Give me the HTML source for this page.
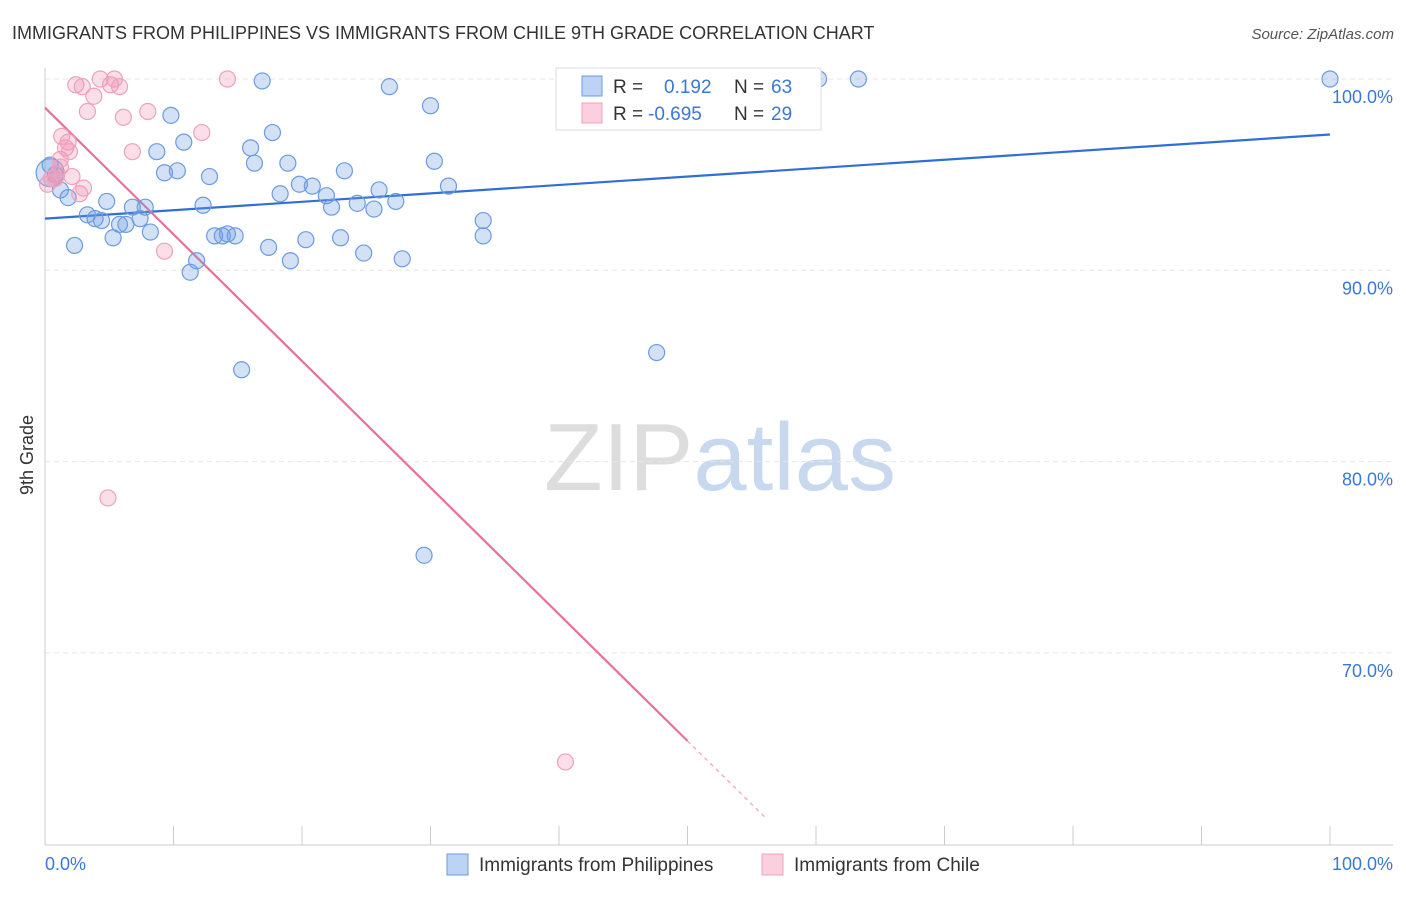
<!DOCTYPE html>
<html><head><meta charset="utf-8"><style>
body{margin:0;background:#fff;font-family:"Liberation Sans",sans-serif;}
svg text{font-family:"Liberation Sans",sans-serif;}
</style></head><body>
<svg id="chart" width="1406" height="892" viewBox="0 0 1406 892" xmlns="http://www.w3.org/2000/svg">
<text x="12" y="39" font-size="18" fill="#333">IMMIGRANTS FROM PHILIPPINES VS IMMIGRANTS FROM CHILE 9TH GRADE CORRELATION CHART</text>
<text x="1394" y="39" font-size="15" fill="#555" text-anchor="end" font-style="italic">Source: ZipAtlas.com</text>
<text x="720" y="490" font-size="96" text-anchor="middle" fill="#ddd" font-family="Liberation Serif">ZIP<tspan fill="#c8d8ee" font-family="Liberation Sans">atlas</tspan></text>
<text transform="translate(33,455) rotate(-90)" font-size="18" fill="#333" text-anchor="middle">9th Grade</text>
<g id="grid"></g><g id="axes"></g><g id="lines"></g><g id="pts"></g>
<g>
<rect x="556" y="68" width="265" height="62" fill="#fff" stroke="#ddd"/>
<rect x="582" y="76" width="20" height="20" fill="#bcd3f5" stroke="#6b9be0"/>
<text x="613" y="93" font-size="19" fill="#333">R = </text><text x="664" y="93" font-size="19" fill="#3a78d8">0.192</text>
<text x="734" y="93" font-size="19" fill="#333">N = </text><text x="771" y="93" font-size="19" fill="#3a78d8">63</text>
<rect x="582" y="103" width="20" height="20" fill="#fbd0de" stroke="#f0a0bb"/>
<text x="613" y="120" font-size="19" fill="#333">R = </text><text x="648" y="120" font-size="19" fill="#3a78d8">-0.695</text>
<text x="734" y="120" font-size="19" fill="#333">N = </text><text x="771" y="120" font-size="19" fill="#3a78d8">29</text>
</g>
<g>
<rect x="447" y="854" width="21" height="21" fill="#bcd3f5" stroke="#6b9be0"/>
<text x="479" y="871" font-size="19" fill="#333">Immigrants from Philippines</text>
<rect x="762" y="854" width="21" height="21" fill="#fbd0de" stroke="#f0a0bb"/>
<text x="794" y="871" font-size="19" fill="#333">Immigrants from Chile</text>
</g>
</svg>
<script>
const blueX=[0.4,0.8,1.2,1.8,2.3,3.3,3.9,4.4,4.8,5.3,5.8,6.3,6.8,7.4,7.8,8.2,8.7,9.3,9.8,10.3,10.8,11.3,11.8,12.3,12.8,13.2,13.8,14.2,14.8,15.3,16.0,16.3,16.9,17.4,17.7,18.3,18.9,19.1,19.8,20.3,20.8,21.9,22.3,23.0,23.3,24.3,24.8,25.6,26.0,26.8,27.3,27.8,29.5,30.0,30.3,31.4,34.1,34.1,47.6,60.2,63.3,100,0.4];
const blueY=[95.5,95.0,94.2,93.8,91.3,92.9,92.7,92.6,93.6,91.7,92.4,92.4,93.3,92.7,93.3,92.0,96.2,95.1,98.1,95.2,96.7,89.9,90.5,93.4,94.9,91.8,91.8,91.9,91.8,84.8,96.4,95.6,99.9,91.2,97.2,94.0,95.6,90.5,94.5,91.6,94.4,93.9,93.3,91.7,95.2,93.5,90.9,93.2,94.2,99.6,93.6,90.6,75.1,98.6,95.7,94.4,92.6,91.8,85.7,100,100,100,95.1];
const pinkX=[0.2,0.5,0.9,1.2,1.3,1.6,1.8,1.9,2.1,2.4,2.7,3.0,2.9,3.3,3.8,4.3,4.9,5.1,5.4,5.8,6.1,6.8,8.0,9.3,12.2,14.2,40.5,0.8,1.2];
const pinkY=[94.5,94.8,95.0,95.8,97.0,96.4,96.7,96.2,94.9,99.7,94.0,94.3,99.6,98.3,99.1,100,78.1,99.7,100,99.6,98.0,96.2,98.3,91.0,97.2,100,64.3,94.8,95.4];
const blueTrend=[92.7,97.1];
const pinkTrend=[98.5,-0.662];
const yTicks=[100,90,80,70];
const yTickLabels=["100.0%","90.0%","80.0%","70.0%"];
const NS="http://www.w3.org/2000/svg";
const X=v=>45+v*12.85, Y=v=>79+(100-v)*19.13;
function mk(t,a,p){const e=document.createElementNS(NS,t);for(const k in a)e.setAttribute(k,a[k]);p.appendChild(e);return e;}
const grid=document.getElementById('grid'),axes=document.getElementById('axes'),lines=document.getElementById('lines'),pts=document.getElementById('pts');
yTicks.forEach((t,i)=>{
 const l=mk('line',{x1:45,x2:1393,y1:Y(t),y2:Y(t),stroke:'#e6e6e6','stroke-dasharray':'5,4'},grid);
 
 
 const tx=mk('text',{x:1393,y:Y(t)+24,'font-size':18,fill:'#3a78d8','text-anchor':'end'},axes);tx.textContent=yTickLabels[i];
 
 
});
const ya=mk('line',{x1:45,x2:45,y1:68,y2:845,stroke:'#ccc'},axes);


const xa=mk('line',{x1:45,x2:1393,y1:845,y2:845,stroke:'#ccc'},axes);


for(let i=0;i<=10;i++){const t=mk('line',{x1:X(i*10),x2:X(i*10),y1:826,y2:845,stroke:'#ccc'},axes);
 
 }
const x0=mk('text',{x:45,y:870,'font-size':18,fill:'#3a78d8'},axes);x0.textContent='0.0%';


const x1=mk('text',{x:1393,y:870,'font-size':18,fill:'#3a78d8','text-anchor':'end'},axes);x1.textContent='100.0%';


blueX.forEach((x,i)=>{const c=mk('circle',{cx:X(x),cy:Y(blueY[i]),r:i==blueX.length-1?14:8,fill:'rgba(110,155,225,0.3)',stroke:'#6b9be0','stroke-width':1.2},pts);
 
 });
pinkX.forEach((x,i)=>{const c=mk('circle',{cx:X(x),cy:Y(pinkY[i]),r:8,fill:'rgba(240,150,180,0.3)',stroke:'#f0a0bb','stroke-width':1.2},pts);
 
 });
const bl=mk('line',{x1:X(0),y1:Y(blueTrend[0]),x2:X(100),y2:Y(blueTrend[1]),stroke:'#2f6fd6','stroke-width':2.2},lines);


const pe=50, pd=(pinkTrend[0]-61.3)/-pinkTrend[1];
const pl=mk('line',{x1:X(0),y1:Y(pinkTrend[0]),x2:X(pe),y2:Y(pinkTrend[0]+pinkTrend[1]*pe),stroke:'#e8709a','stroke-width':2.2},lines);


const pdl=mk('line',{x1:X(pe),y1:Y(pinkTrend[0]+pinkTrend[1]*pe),x2:X(pd),y2:Y(pinkTrend[0]+pinkTrend[1]*pd),stroke:'#f0a0bb','stroke-width':1.2,'stroke-dasharray':'4,4'},lines);


</script>
</body></html>
